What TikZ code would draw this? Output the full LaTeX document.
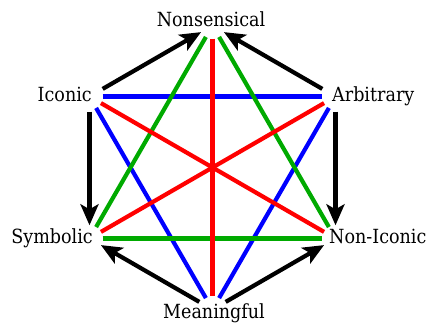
\documentclass[tikz,border=0pt]{standalone}
\usepackage{fontspec}
\newfontfamily\lblfont[FakeStretch=0.9]{DejaVu Serif}
\usetikzlibrary{arrows.meta}
\definecolor{ered}{RGB}{255,0,0}
\definecolor{eblue}{RGB}{0,0,255}
\definecolor{egreen}{RGB}{0,170,0}
\begin{document}
\begin{tikzpicture}[x=1pt,y=-1pt,
  vtx/.style={circle,minimum size=26pt,inner sep=0pt},
  lbl/.style={font=\lblfont\fontsize{19.5}{23}\selectfont,inner sep=0pt},
  edge/.style={line width=4.2pt},
  arr/.style={line width=4.2pt,shorten <=2pt,-{Stealth[length=21pt,width=18pt,inset=5pt]}}]
\useasboundingbox (0,0) rectangle (426,325);
% vertices of the hexagon
\node[vtx] (N)  at (212.5,25.5) {};
\node[vtx] (I)  at (89.5,96.5) {};
\node[vtx] (A)  at (335.5,96.5) {};
\node[vtx] (S)  at (89.5,238.5) {};
\node[vtx] (NI) at (335.5,238.5) {};
\node[vtx] (M)  at (212.5,309.5) {};
% labels
\node[lbl,anchor=base] (tN) at (211,26) {Nonsensical};
\node[lbl,anchor=base east] (tI) at (92,101.7) {Iconic};
\node[lbl,anchor=base west] (tA) at (332,101.7) {Arbitrary};
\node[lbl,anchor=base east] (tS) at (93,243.3) {Symbolic};
\node[lbl,anchor=base west] (tNI) at (329,243.3) {Non-Iconic};
\node[lbl,anchor=base] (tM) at (214,318.5) {Meaningful};
% blue
\draw[edge,eblue] (I) -- (A);
\draw[edge,eblue] (I) -- (M);
\draw[edge,eblue] (A) -- (M);
% green
\draw[edge,egreen] (S) -- (NI);
\draw[edge,egreen] (N) -- (S);
\draw[edge,egreen] (N) -- (NI);
% red
\draw[edge,ered] (N) -- (M);
\draw[edge,ered] (I) -- (NI);
\draw[edge,ered] (A) -- (S);
% black arrows
\draw[arr] (I) -- (N);
\draw[arr] (A) -- (N);
\draw[arr] (I) -- (S);
\draw[arr] (A) -- (NI);
\draw[arr] (M) -- (S);
\draw[arr] (M) -- (NI);
\end{tikzpicture}
\end{document}
